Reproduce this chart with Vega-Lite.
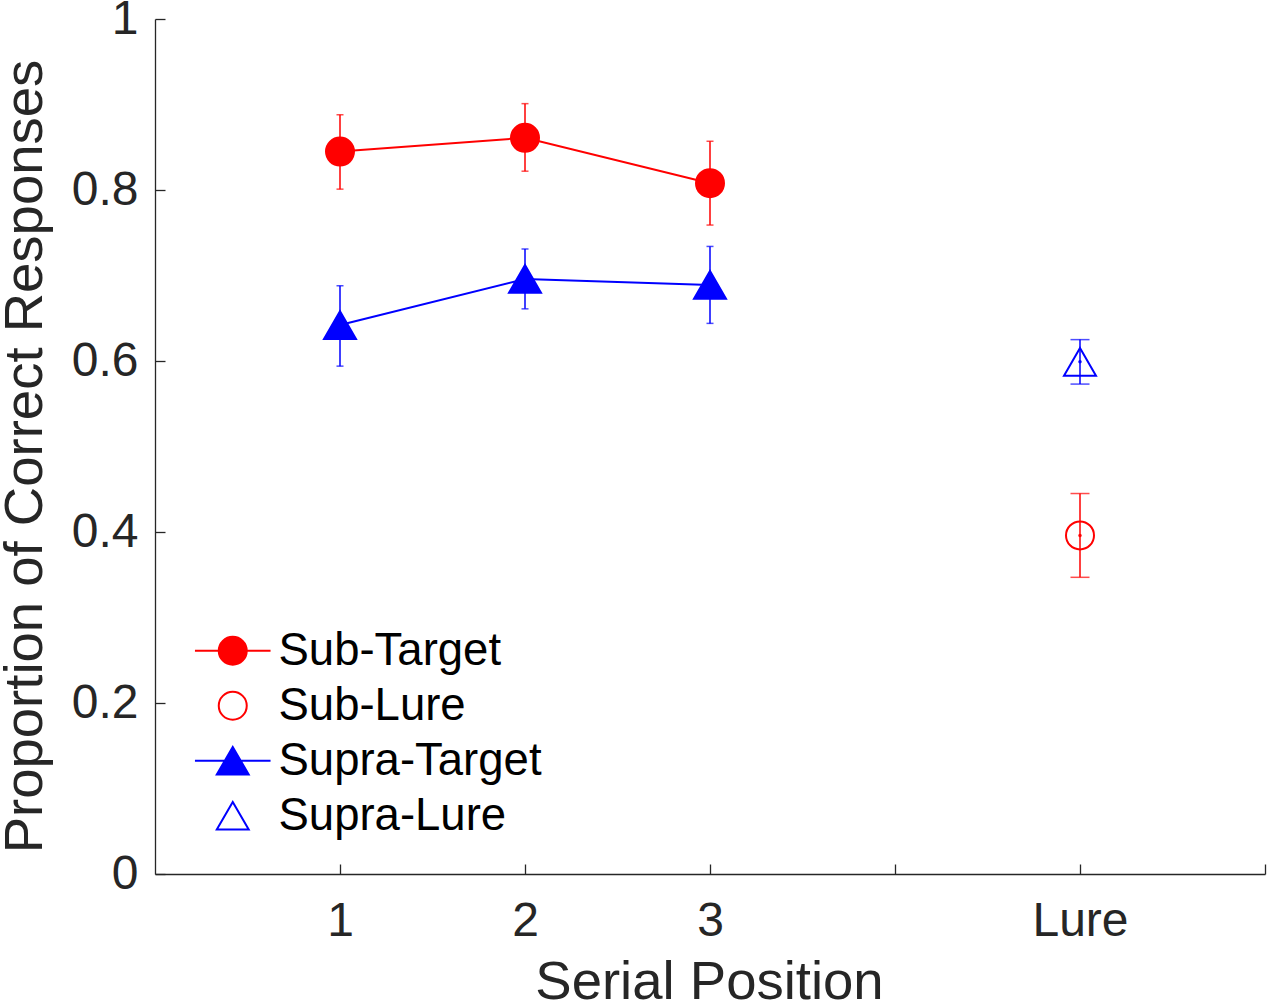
{
  "$schema": "https://vega.github.io/schema/vega-lite/v6.json",
  "width": 1110,
  "height": 855,
  "autosize": {"type": "none"},
  "padding": {"left": 155, "top": 19, "right": 2, "bottom": 128},
  "background": "white",
  "config": {
    "font": "Liberation Sans",
    "view": {"stroke": null},
    "axis": {
      "grid": false,
      "domainColor": "#262626",
      "domainWidth": 1.3,
      "tickColor": "#262626",
      "tickWidth": 1.3,
      "tickSize": -10,
      "labelColor": "#262626",
      "labelFontSize": 48,
      "titleColor": "#262626",
      "titleFontSize": 54.5,
      "titleFontWeight": "normal"
    }
  },
  "data": {
    "values": [
      {"series": "Sub-Target", "pos": 1, "mean": 0.845, "lo": 0.801, "hi": 0.888},
      {"series": "Sub-Target", "pos": 2, "mean": 0.861, "lo": 0.822, "hi": 0.901},
      {"series": "Sub-Target", "pos": 3, "mean": 0.808, "lo": 0.759, "hi": 0.857},
      {"series": "Sub-Lure", "pos": 5, "mean": 0.396, "lo": 0.347, "hi": 0.445},
      {"series": "Supra-Target", "pos": 1, "mean": 0.642, "lo": 0.594, "hi": 0.688},
      {"series": "Supra-Target", "pos": 2, "mean": 0.696, "lo": 0.661, "hi": 0.731},
      {"series": "Supra-Target", "pos": 3, "mean": 0.689, "lo": 0.644, "hi": 0.734},
      {"series": "Supra-Lure", "pos": 5, "mean": 0.599, "lo": 0.573, "hi": 0.625}
    ]
  },
  "encoding": {
    "x": {
      "field": "pos",
      "type": "quantitative",
      "scale": {"domain": [0, 6], "nice": false, "zero": false},
      "axis": {
        "title": "Serial Position",
        "values": [1, 2, 3, 4, 5, 6],
        "labelExpr": "datum.value == 5 ? 'Lure' : (datum.value <= 3 ? datum.label : '')",
        "labelPadding": 33,
        "labelFlush": false,
        "labelOverlap": false,
        "titleX": 554,
        "titleY": 124,
        "titleBaseline": "alphabetic"
      }
    },
    "color": {
      "field": "series",
      "type": "nominal",
      "scale": {
        "domain": ["Sub-Target", "Sub-Lure", "Supra-Target", "Supra-Lure"],
        "range": ["#ff0000", "#ff0000", "#0000ff", "#0000ff"]
      },
      "legend": {
        "title": null,
        "orient": "none",
        "legendX": 34,
        "legendY": 609,
        "padding": 0,
        "labelFontSize": 45.5,
        "labelColor": "black",
        "labelLimit": 400,
        "symbolSize": 784,
        "symbolStrokeWidth": 2,
        "symbolOpacity": 1,
        "symbolOffset": 21,
        "labelOffset": 23,
        "rowPadding": 8
      }
    }
  },
  "layer": [
    {
      "mark": {"type": "rule", "strokeWidth": 1.5},
      "encoding": {
        "y": {
          "field": "lo",
          "type": "quantitative",
          "scale": {"domain": [0, 1], "nice": false},
          "axis": {
            "title": "Proportion of Correct Responses",
            "values": [0, 0.2, 0.4, 0.6, 0.8, 1],
            "format": "~g",
            "labelPadding": 27,
            "titleAngle": -90,
            "titleBaseline": "alphabetic",
            "titleX": -114,
            "titleY": 437
          }
        },
        "y2": {"field": "hi"}
      }
    },
    {
      "mark": {"type": "tick", "orient": "horizontal", "thickness": 1.5},
      "encoding": {
        "y": {"field": "lo", "type": "quantitative"},
        "color": {"condition": {"test": "indexof(['Sub-Target', 'Sub-Lure'], datum.series) >= 0", "value": "#ff0000"}, "value": "#0000ff"},
        "size": {"condition": {"test": "datum.pos == 5", "value": 19}, "value": 7}
      }
    },
    {
      "mark": {"type": "tick", "orient": "horizontal", "thickness": 1.5},
      "encoding": {
        "y": {"field": "hi", "type": "quantitative"},
        "color": {"condition": {"test": "indexof(['Sub-Target', 'Sub-Lure'], datum.series) >= 0", "value": "#ff0000"}, "value": "#0000ff"},
        "size": {"condition": {"test": "datum.pos == 5", "value": 19}, "value": 7}
      }
    },
    {
      "transform": [{"filter": "datum.pos <= 3"}],
      "mark": {"type": "line", "strokeWidth": 2},
      "encoding": {
        "y": {"field": "mean", "type": "quantitative"}
      }
    },
    {
      "mark": {"type": "point", "filled": false, "strokeWidth": 2, "opacity": 1},
      "encoding": {
        "y": {"field": "mean", "type": "quantitative"},
        "fill": {
          "condition": [
            {"test": "datum.series === 'Sub-Target'", "value": "#ff0000"},
            {"test": "datum.series === 'Supra-Target'", "value": "#0000ff"}
          ],
          "value": "transparent"
        },
        "shape": {
          "condition": {"test": "indexof(['Supra-Target', 'Supra-Lure'], datum.series) >= 0", "value": "triangle-up"},
          "value": "circle"
        },
        "size": {"condition": {"test": "indexof(['Supra-Target', 'Supra-Lure'], datum.series) >= 0", "value": 1024}, "value": 784}
      }
    },
    {
      "mark": {"type": "point", "filled": false, "strokeWidth": 2, "opacity": 0},
      "encoding": {
        "y": {"field": "mean", "type": "quantitative"},
        "fill": {
          "field": "series",
          "type": "nominal",
          "scale": {
            "domain": ["Sub-Target", "Sub-Lure", "Supra-Target", "Supra-Lure"],
            "range": ["#ff0000", "transparent", "#0000ff", "transparent"]
          },
          "legend": {"title": null, "symbolOpacity": 1}
        },
        "shape": {
          "field": "series",
          "type": "nominal",
          "scale": {
            "domain": ["Sub-Target", "Sub-Lure", "Supra-Target", "Supra-Lure"],
            "range": [
              "M-2.7,0H2.7M1,0A1,1,0,1,1,-1,0A1,1,0,1,1,1,0Z",
              "circle",
              "M-2.7,0H2.7M0,-0.99L-1.14,0.99L1.14,0.99Z",
              "M0,-0.99L-1.14,0.99L1.14,0.99Z"
            ]
          },
          "legend": {"title": null, "symbolOpacity": 1}
        }
      }
    },
    {
      "transform": [{"filter": "datum.pos == 5"}],
      "mark": {"type": "circle", "size": 12, "opacity": 1},
      "encoding": {
        "y": {"field": "mean", "type": "quantitative"},
        "color": {"condition": {"test": "datum.series === 'Sub-Lure'", "value": "#ff0000"}, "value": "#0000ff"}
      }
    }
  ]
}
